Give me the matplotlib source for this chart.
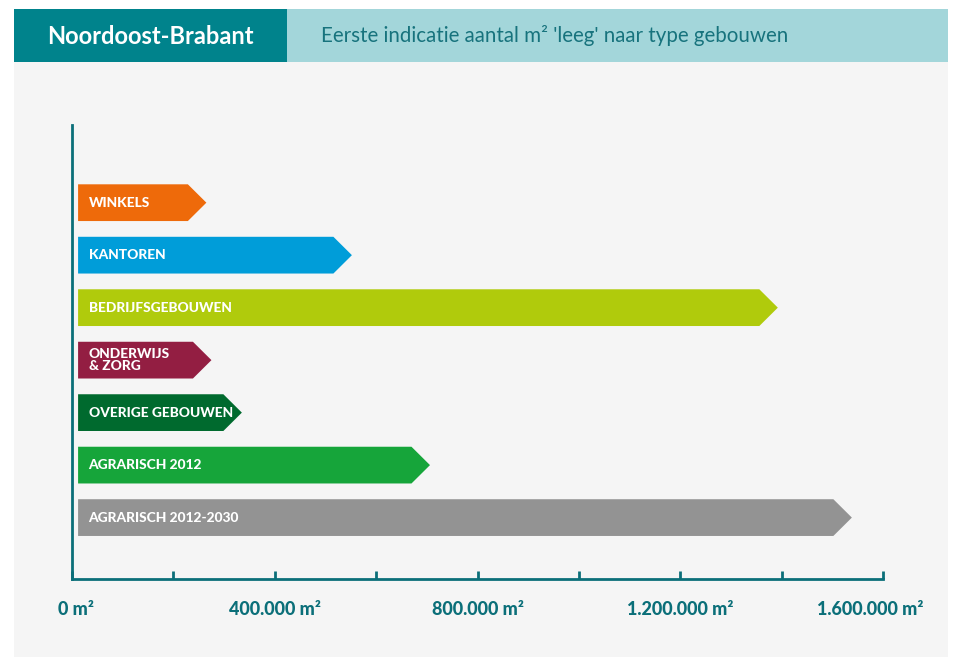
import matplotlib.pyplot as plt
from matplotlib.patches import Polygon, Rectangle
from matplotlib.transforms import ScaledTranslation

# categories, top to bottom
labels = ["WINKELS", "KANTOREN", "BEDRIJFSGEBOUWEN", "ONDERWIJS\n& ZORG",
          "OVERIGE GEBOUWEN", "AGRARISCH 2012", "AGRARISCH 2012-2030"]
values = [265000, 552000, 1392000, 275000, 335000, 706000, 1538000]  # m2 leeg
colors = ["#ee6a0a", "#009dd9", "#b0cb0c", "#931e42", "#006a2e", "#16a53a", "#939393"]

tick_values = [0, 400000, 800000, 1200000, 1600000]
tick_labels = ["0 m²", "400.000 m²", "800.000 m²", "1.200.000 m²", "1.600.000 m²"]
minor_values = [200000, 600000, 1000000, 1400000]

teal = "#0b6f79"
plt.rcParams["font.family"] = ["Lato", "DejaVu Sans"]

fig = plt.figure(figsize=(9.55, 6.57), dpi=100)
fig.patch.set_facecolor("white")
W, H = 955, 657


def px_rect(x0, y0, x1, y1, color):
    fig.patches.append(Rectangle((x0 / W, 1 - y1 / H), (x1 - x0) / W, (y1 - y0) / H,
                                 transform=fig.transFigure, facecolor=color,
                                 edgecolor="none", zorder=-10))


# header band and panel background
px_rect(14, 62, 948, 657, "#f5f5f5")
px_rect(14, 9, 287, 62, "#00838c")
px_rect(287, 9, 948, 62, "#a3d6da")
fig.text(150 / W, 1 - 36 / H, "Noordoost-Brabant", color="white", fontsize=17,
         fontweight="bold", ha="center", va="center")
fig.text(321 / W, 1 - 36 / H, "Eerste indicatie aantal m² 'leeg' naar type gebouwen",
         color="#17737d", fontsize=14.8, ha="left", va="center")

ax = fig.add_axes([72 / W, 1 - 579 / H, (883.3 - 72) / W, (579 - 125) / H])
ax.set_zorder(5)
ax.set_facecolor("none")
ax.set_xlim(0, 1600000)
ax.set_ylim(7.17, -1.48)

bar_h = 0.35
start = 12000
tip = 36500
for i, (lab, v, c) in enumerate(zip(labels, values, colors)):
    pts = [(start, i - bar_h), (v - tip, i - bar_h), (v, i),
           (v - tip, i + bar_h), (start, i + bar_h)]
    ax.add_patch(Polygon(pts, closed=True, facecolor=c, edgecolor="none"))
    ax.annotate(lab, (start, i), xytext=(7.5, 0), textcoords="offset points",
                color="white", fontsize=9.9, fontweight="black", va="center",
                ha="left", linespacing=0.95)

for side in ["top", "right"]:
    ax.spines[side].set_visible(False)
for side in ["left", "bottom"]:
    ax.spines[side].set_color(teal)
    ax.spines[side].set_linewidth(2)
ax.set_yticks([])
ax.set_xticks(tick_values)
ax.set_xticklabels(tick_labels)
ax.set_xticks(minor_values, minor=True)
ax.tick_params(axis="x", which="both", direction="in", length=6, width=2,
               color=teal, pad=16)
ax.tick_params(axis="x", which="major", labelsize=13, labelcolor=teal)
for t in ax.get_xticklabels():
    t.set_fontweight("black")
# first label sits a little right of the axis, last one stays inside the panel
first = ax.get_xticklabels()[0]
first.set_transform(first.get_transform() + ScaledTranslation(4 / 100, 0, fig.dpi_scale_trans))
last = ax.get_xticklabels()[-1]
last.set_transform(last.get_transform() + ScaledTranslation(-13 / 100, 0, fig.dpi_scale_trans))

fig.savefig("out.png", dpi=100, facecolor=fig.get_facecolor())
